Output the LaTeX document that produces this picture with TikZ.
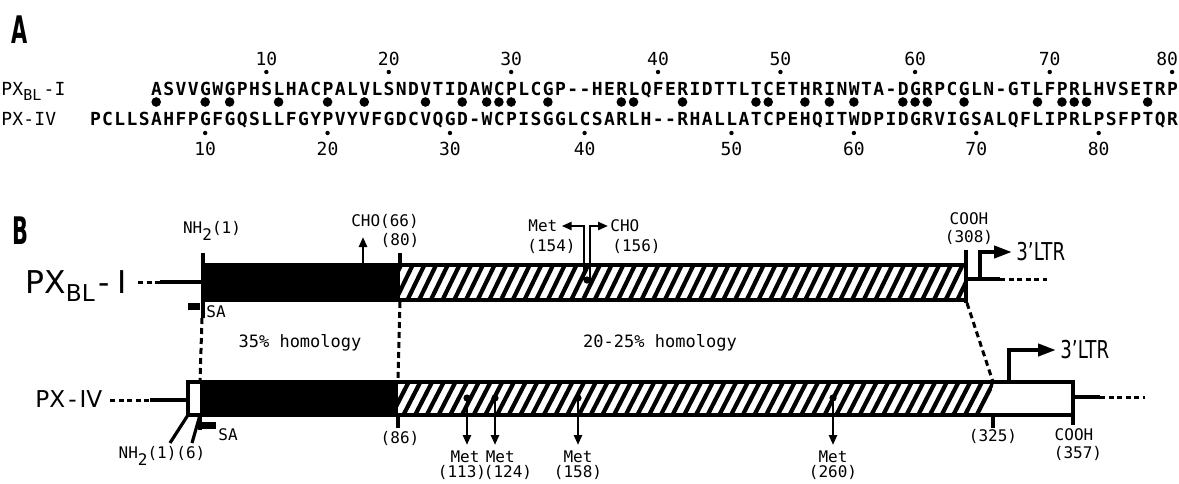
\documentclass[tikz,border=0pt]{standalone}
\usepackage{fontspec}
\setmainfont{DejaVu Sans}
\setsansfont{DejaVu Sans}
\setmonofont{DejaVu Sans Mono}
\usepackage{tikz}
\usetikzlibrary{arrows.meta, positioning}

% residues on a fixed pitch
\newlength\seqpitch
\setlength\seqpitch{6.12pt}
\makeatletter
\def\seqrow#1{\seq@row#1\relax}
\def\seq@row#1{\ifx\relax#1\else\makebox[\seqpitch]{#1}\expandafter\seq@row\fi}
\makeatother

\tikzset{
  seqtext/.style={font=\ttfamily\bfseries\fontsize{9}{9}\selectfont, inner sep=0pt, anchor=base west},
  numtext/.style={font=\ttfamily\fontsize{9}{9}\selectfont, inner sep=0pt, anchor=base},
  lbl/.style={font=\ttfamily\fontsize{8}{8}\selectfont, inner sep=0pt},
  panel/.style={font=\sffamily\bfseries\fontsize{19}{19}\selectfont, inner sep=0pt},
  barframe/.style={line width=2pt},
  hatchstroke/.style={line width=2.1pt},
  tickmark/.style={line width=1.6pt},
  homolink/.style={line width=1.5pt, dash pattern=on 3pt off 2pt},
  stubdots/.style={line width=1.5pt, dash pattern=on 2.5pt off 1.8pt},
  metarrow/.style={line width=1.4pt, -{Triangle[length=5pt,width=4pt]}},
  ltrarrow/.style={line width=2pt, -{Triangle[length=9pt,width=6pt]}},
  ltrtext/.style={font=\fontsize{12.3}{12}\selectfont, inner sep=2pt, anchor=west}
}

\begin{document}
\begin{tikzpicture}[x=0.5pt, y=-0.5pt]
    \useasboundingbox (0,0) rectangle (1179,483);

    % Panel A
    \node[panel] (A) at (20,30) {\scalebox{0.55}[1]{A}};

    % Row names
    \begingroup
    \setlength\seqpitch{5.5pt}
    \node[seqtext, font=\ttfamily\fontsize{9}{9}\selectfont] (nameBL) at (1,95)
        {\seqrow{PX}\raisebox{-2.5pt}{\fontsize{7.5}{7.5}\selectfont BL}\hspace{1pt}\seqrow{-I}};
    \node[seqtext, font=\ttfamily\fontsize{9}{9}\selectfont] (nameIV) at (1,125) {\seqrow{PX-IV}};
    \endgroup

    % Aligned sequences
    \node[seqtext] (seqBL) at (150.1,95)
        {\seqrow{ASVVGWGPHSLHACPALVLSNDVTIDAWCPLCGP--HERLQFERIDTTLTCETHRINWTA-DGRPCGLN-GTLFPRLHVSETRP}};
    \node[seqtext] (seqIV) at (88.9,125)
        {\seqrow{PCLLSAHFPGFGQSLLFGYPVYVFGDCVQGD-WCPISGGLCSARLH--RHALLATCPEHQITWDPIDGRVIGSALQFLIPRLPSFPTQR}};

    % Numbering
    \foreach \num/\c/\sh in {10/15/0,20/25/0,30/35/0,40/47/0,50/57/0,60/68/0,70/79/0,80/89/-5}{
        \node[numtext] (nBL\num) at ({95+(\c-1)*12.24+\sh},65) {\num};
        \fill ({95+(\c-1)*12.24},72) circle[radius=1.1pt];
    }
    \foreach \num/\c in {10/10,20/20,30/30,40/41,50/53,60/63,70/73,80/83}{
        \node[numtext] (nIV\num) at ({95+(\c-1)*12.24},155) {\num};
        \fill ({95+(\c-1)*12.24},133) circle[radius=1.1pt];
    }

    % Identical residues
    \foreach \c in {6,10,12,16,20,23,28,31,33,34,35,38,44,45,49,55,56,59,61,63,67,68,69,72,78,80,81,82,87}
        \fill ({95+(\c-1)*12.24},102) circle[radius=2.4pt];

    % Panel B
    \node[panel] (B) at (20,231) {\scalebox{0.55}[1]{B}};

    % pX_BL-I
    \node[anchor=base west, inner sep=0pt, font=\fontsize{15.7}{16}\selectfont] (pxbl) at (25,293)
        {PX\raisebox{-4pt}{\fontsize{11.6}{12}\selectfont BL}\hspace{2pt}-\hspace{4pt}I};
    \draw[stubdots] (138,282) -- (160,282);
    \draw[tickmark] (160,282) -- (203,282);

    \fill (203,265) rectangle (400,300);
    \begin{scope}
        \clip (400,265) rectangle (966,300);
        \foreach \x in {384,395.7,...,975}
            \draw[hatchstroke] (\x,300) -- (\x+17,265);
    \end{scope}
    \draw[barframe] (203,265) rectangle (966,300);

    \draw[tickmark] (203,253) -- (203,318);
    \draw[tickmark] (400,253) -- (400,265);
    \draw[tickmark] (966,250) -- (966,303);

    \node[lbl, anchor=base] (nh2a) at (212,233) {NH\raisebox{-3.5pt}{2}(1)};
    \node[lbl] (cho66) at (385,221) {CHO(66)};
    \draw[metarrow] (363,265) -- (363,237);
    \node[lbl] (n80) at (400,240) {(80)};

    % Met / CHO near 155
    \node[lbl, anchor=west] (met154) at (528,226) {Met};
    \node[lbl, anchor=west] (n154) at (527,246) {(154)};
    \node[lbl, anchor=west] (cho156) at (610,226) {CHO};
    \node[lbl, anchor=west] (n156) at (612,246) {(156)};
    \draw[metarrow, line width=1.2pt] (584,280) -- (584,226) -- ([xshift=2pt]met154.east);
    \draw[metarrow, line width=1.2pt] (590,280) -- (590,226) -- ([xshift=-1pt]cho156.west);
    \fill (587,280) circle[radius=1.8pt];

    \node[lbl] (coohA) at (969,219) {COOH};
    \node[lbl] (n308) at (969,237) {(308)};

    \fill (188,303) rectangle (200,310);
    \node[lbl] (saA) at (216,312) {SA};

    % 3'LTR
    \draw[tickmark] (966,279) -- (1000,279);
    \draw[stubdots] (1000,279) -- (1047,279);
    \node[ltrtext] (ltrA) at (1012,252) {\scalebox{0.74}[1]{3’LTR}};
    \draw[ltrarrow] (980,279) -- (980,252) -- (ltrA.west);

    % Homology
    \draw[homolink] (202,318) -- (200,382);
    \draw[homolink] (400,302) -- (398,382);
    \draw[homolink] (967,303) -- (993,382);
    \node[lbl, font=\ttfamily\fontsize{8.5}{9}\selectfont] (h35) at (300,343) {35\% homology};
    \node[lbl, font=\ttfamily\fontsize{8.5}{9}\selectfont] (h20) at (660,343) {20-25\% homology};

    % pX-IV
    \node[anchor=base west, inner sep=0pt, font=\fontsize{11.6}{12}\selectfont] (pxiv) at (35,407)
        {PX\hspace{1.5pt}-\hspace{1.5pt}IV};
    \draw[stubdots] (110,400) -- (150,400);
    \draw[tickmark] (150,400) -- (188,400);

    \fill (200,382) rectangle (398,415);
    \begin{scope}
        \clip (398,382) -- (994,382) -- (986,415) -- (398,415) -- cycle;
        \foreach \x in {380,391.7,...,1000}
            \draw[hatchstroke] (\x,415) -- (\x+17,382);
    \end{scope}
    \draw[barframe] (188,382) rectangle (1073,415);

    \draw[tickmark] (398,415) -- (398,428);
    \draw[tickmark] (993,415) -- (993,428);
    \draw[tickmark] (1073,415) -- (1073,425);
    \draw[tickmark] (188,415) -- (170,443);
    \draw[tickmark] (200,415) -- (192,443);
    \draw[tickmark] (200,415) -- (200,430);
    \fill (200,422) rectangle (216,429);
    \node[lbl] (saB) at (228,435) {SA};

    \node[lbl, anchor=base] (nh2b) at (162,458) {NH\raisebox{-3.5pt}{2}(1)(6)};
    \node[lbl] (n86) at (400,438) {(86)};
    \node[lbl] (n325) at (993,436) {(325)};
    \node[lbl] (coohB) at (1074,435) {COOH};
    \node[lbl] (n357) at (1078,453) {(357)};

    \draw[tickmark] (1073,397) -- (1100,397);
    \draw[stubdots] (1100,397) -- (1145,397);
    \node[ltrtext] (ltrB) at (1056,350) {\scalebox{0.74}[1]{3’LTR}};
    \draw[ltrarrow] (1009,382) -- (1009,350) -- (ltrB.west);

    % Met sites
    \foreach \x/\lx/\site in {467/462/113, 495/508/124, 578/578/158, 833/833/260}{
        \fill (\x,398) circle[radius=1.8pt];
        \node[lbl] (met\site) at ({\x+(\lx-\x)*0.4},457) {Met};
        \node[lbl] (n\site) at (\lx,472) {(\site)};
        \draw[metarrow] (\x,398) -- (\x,445);
    }

\end{tikzpicture}
\end{document}
